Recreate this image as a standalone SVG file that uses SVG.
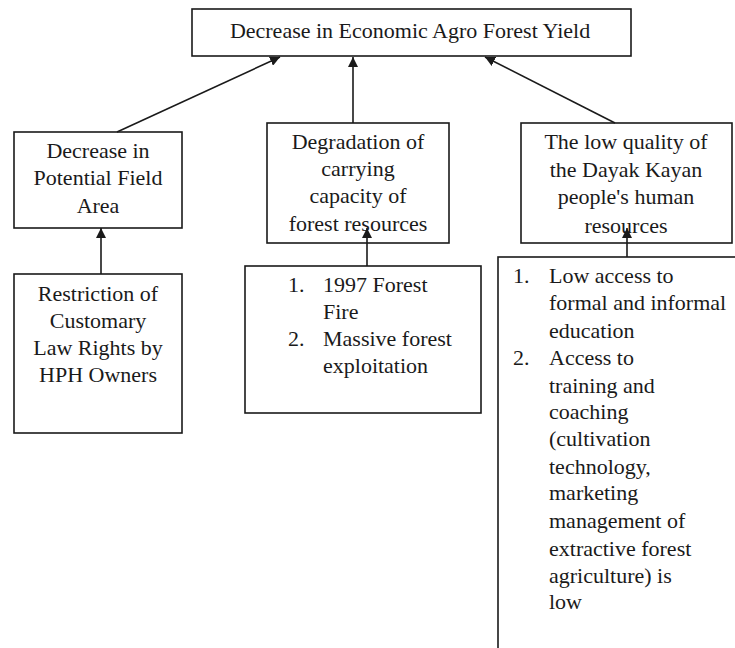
<svg xmlns="http://www.w3.org/2000/svg" width="735" height="648" viewBox="0 0 735 648">
<defs>
<style>
.box{fill:#fff;stroke:#1a1a1a;stroke-width:1.6}
.t{font-family:"Liberation Serif","DejaVu Serif",serif;font-size:22px;fill:#1a1a1a}
.c{text-anchor:middle}
.ln{stroke:#1a1a1a;stroke-width:1.6;fill:none}
</style>
<marker id="ah" viewBox="0 0 10 10" refX="10" refY="5" markerWidth="10" markerHeight="10" markerUnits="userSpaceOnUse" orient="auto">
<path d="M0,0 L10,5 L0,10 z" fill="#1a1a1a"/>
</marker>
</defs>
<rect width="735" height="648" fill="#fff"/>
<g id="top">
<rect class="box" x="192" y="9" width="439" height="47"/>
<text class="t c" x="410" y="38">Decrease in Economic Agro Forest Yield</text>
</g>
<g id="field">
<rect class="box" x="14" y="132" width="168" height="96"/>
<text class="t c" x="98" y="158">Decrease in</text>
<text class="t c" x="98" y="185">Potential Field</text>
<text class="t c" x="98" y="213">Area</text>
</g>
<g id="restriction">
<rect class="box" x="14" y="274" width="168" height="159"/>
<text class="t c" x="98" y="301">Restriction of</text>
<text class="t c" x="98" y="328">Customary</text>
<text class="t c" x="98" y="355">Law Rights by</text>
<text class="t c" x="98" y="382">HPH Owners</text>
</g>
<g id="degradation">
<rect class="box" x="267" y="123" width="182" height="120"/>
<text class="t c" x="358" y="149">Degradation of</text>
<text class="t c" x="358" y="176">carrying</text>
<text class="t c" x="358" y="203">capacity of</text>
<text class="t c" x="358" y="231">forest resources</text>
</g>
<g id="causes2">
<rect class="box" x="245" y="266" width="236" height="147"/>
<text class="t" x="288" y="292">1.</text>
<text class="t" x="323" y="292">1997 Forest</text>
<text class="t" x="323" y="319">Fire</text>
<text class="t" x="288" y="346">2.</text>
<text class="t" x="323" y="346">Massive forest</text>
<text class="t" x="323" y="373">exploitation</text>
</g>
<g id="quality">
<rect class="box" x="521" y="123" width="211" height="120"/>
<text class="t c" x="626" y="149">The low quality of</text>
<text class="t c" x="626" y="177">the Dayak Kayan</text>
<text class="t c" x="626" y="204">people's human</text>
<text class="t c" x="626" y="233">resources</text>
</g>
<g id="causes3">
<rect class="box" x="498" y="257" width="260" height="420"/>
<text class="t" x="513" y="283">1.</text>
<text class="t" x="549" y="283">Low access to</text>
<text class="t" x="549" y="310">formal and informal</text>
<text class="t" x="549" y="338">education</text>
<text class="t" x="513" y="365">2.</text>
<text class="t" x="549" y="365">Access to</text>
<text class="t" x="549" y="393">training and</text>
<text class="t" x="549" y="419">coaching</text>
<text class="t" x="549" y="446">(cultivation</text>
<text class="t" x="549" y="474">technology,</text>
<text class="t" x="549" y="500">marketing</text>
<text class="t" x="549" y="528">management of</text>
<text class="t" x="549" y="556">extractive forest</text>
<text class="t" x="549" y="583">agriculture) is</text>
<text class="t" x="549" y="609">low</text>
</g>
<g id="connectors">
<line class="ln" x1="117" y1="132" x2="280" y2="57" marker-end="url(#ah)"/>
<line class="ln" x1="353" y1="123" x2="353" y2="57" marker-end="url(#ah)"/>
<line class="ln" x1="615" y1="123" x2="485" y2="57" marker-end="url(#ah)"/>
<line class="ln" x1="101" y1="274" x2="101" y2="228" marker-end="url(#ah)"/>
<line class="ln" x1="367" y1="266" x2="367" y2="228" marker-end="url(#ah)"/>
<line class="ln" x1="627" y1="257" x2="627" y2="228" marker-end="url(#ah)"/>
</g>
</svg>
